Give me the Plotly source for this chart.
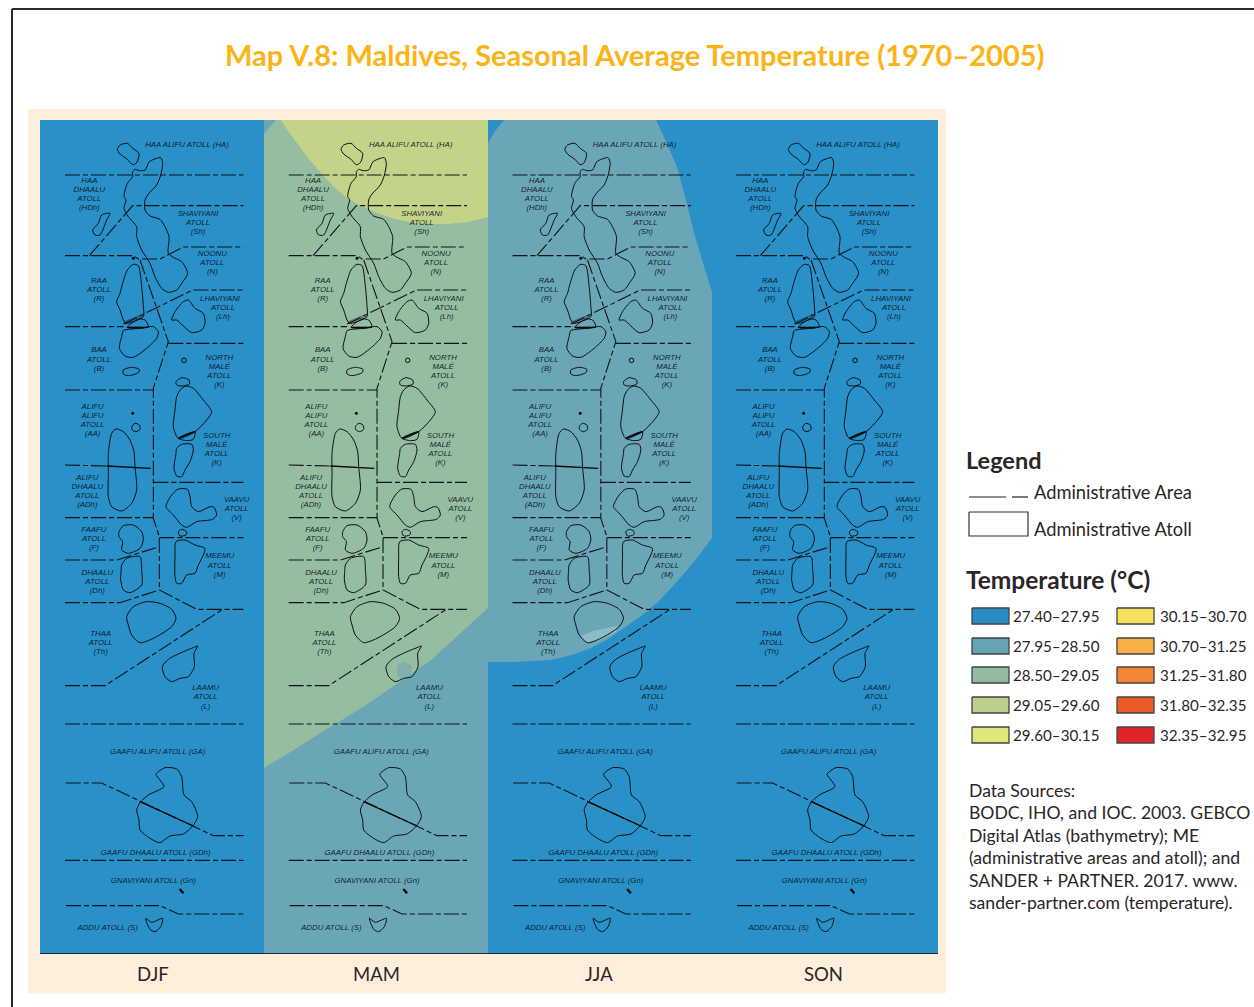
import plotly.graph_objects as go

TITLE = "Map V.8: Maldives, Seasonal Average Temperature (1970–2005)"
SEASONS = ["DJF", "MAM", "JJA", "SON"]
PANEL_X = [40, 264, 488, 712, 938]
PANEL_SHIFT = [40, 263.7, 487.5, 711]
PANEL_TOP, PANEL_BOTTOM = 120, 953
BIN_LABELS = ["27.40–27.95", "27.95–28.50", "28.50–29.05", "29.05–29.60", "29.60–30.15",
              "30.15–30.70", "30.70–31.25", "31.25–31.80", "31.80–32.35", "32.35–32.95"]
BIN_COLORS = ["#2A8AC4", "#66A3B5", "#92BBA0", "#BDCF8D", "#E0E778",
              "#F6E05E", "#F7B045", "#F48635", "#EA5B26", "#E0242A"]
SOURCES = ["Data Sources:", "BODC, IHO, and IOC. 2003. GEBCO", "Digital Atlas (bathymetry); ME",
           "(administrative areas and atoll); and", "SANDER + PARTNER. 2017. www.",
           "sander-partner.com (temperature)."]

PANEL_BLUE = "#2A90C8"
TEAL = "#6BA6B6"
GREEN = "#95BDA0"
YGREEN = "#C3D488"

# temperature zones, panel-local pixels
MAM_GREEN = [(0,14),(12,0),(224,0),(224,488),(212,499),(200,510),(184,525),(167,540),(147,554),(127,568),(105,583),(83,597),(58,612),(33,628),(0,648)]
MAM_YGREEN = [(17,0),(24,11),(33,23),(44,38),(57,53),(69,66),(83,78),(97,86),(113,93),(131,99),(150,103),(167,104),(183,104),(204,102),(224,97),(224,0)]
MAM_BLOTCH = [(133,546),(140,541),(148,546),(146,556),(138,560),(133,555)]
JJA_TEAL = [(0,23),(7,11),(16,0),(168,0),(176,17),(182,31),(189,47),(198,80),(206,113),(215,143),(224,172),(224,418),(212,434),(199,450),(185,466),(169,483),(153,496),(136,508),(120,519),(103,528),(84,535),(63,540),(45,541),(26,542),(0,542)]
JJA_BLOTCH = [(93,516),(105,511),(118,508),(129,506),(128,512),(112,520),(100,523)]

# atoll outlines, in enlarged map units (3 per pixel) with a sheet offset in pixels
HA = (0, [(232,88),(240,75),(262,70),(278,85),(297,100),(290,128),(278,134),(262,118),(240,102)])
NORTH_CHAIN = (0, [(278,155),(285,148),(298,152),(315,150),(328,125),(350,115),(362,113),(368,130),(362,165),(350,195),(325,222),(315,240),(315,270),(330,288),(360,298),(375,320),(387,350),(385,400),(400,412),(425,425),(443,460),(425,490),(410,510),(385,517),(365,505),(345,470),(330,430),(305,390),(290,350),(290,320),(265,290),(252,265),(258,240),(252,230),(262,190),(278,170)])
HDH_ISLE = (0, [(185,285),(210,280),(200,300),(180,345),(165,345),(158,330),(175,310)])
RAA = (0, [(248,490),(262,450),(280,433),(295,437),(305,500),(310,560),(310,590),(258,610),(250,600),(240,570),(230,545),(240,520)])
RAA_LOBE = (0, [(262,622),(295,597),(315,600),(325,620),(300,625)])
BAA = (0, [(250,632),(300,625),(340,620),(355,635),(350,655),(320,685),(280,712),(255,708),(238,685),(245,650)])
BAA_ISLE = (0, [(250,750),(275,742),(298,748),(295,758),(265,767),(250,762)])
LH = (0, [(395,600),(405,575),(430,545),(445,540),(465,565),(490,580),(495,610),(485,630),(455,638),(430,618),(410,600)])
NM_ISLE = (0, [(408,785),(425,773),(447,780),(448,792),(428,798),(410,795)])
NORTH_MALE = (270, [(410,20),(420,0),(438,-12),(460,-5),(490,30),(515,65),(500,90),(465,125),(415,145),(400,110),(405,60)])
NM_LOBE = (270, [(415,145),(440,152),(460,148),(465,125)])
SOUTH_MALE = (270, [(410,175),(425,163),(455,163),(460,180),(450,215),(435,240),(425,260),(410,258),(402,235),(408,190)])
AA_RING = (270, [(275,110),(285,100),(298,105),(300,118),(288,125),(277,120)])
ALIFU = (270, [(215,130),(228,117),(250,125),(270,150),(282,185),(285,230),(290,300),(275,340),(245,363),(215,350),(205,320),(205,250),(205,190)])
VAAVU = (270, [(378,350),(395,315),(415,297),(442,298),(450,320),(455,350),(475,365),(510,350),(522,352),(530,375),(518,388),(470,395),(440,412),(425,405),(400,375)])
V_ISLE = (270, [(415,425),(425,418),(440,425),(438,435),(420,438)])
MEEMU = (270, [(408,455),(435,450),(465,465),(495,475),(490,495),(475,525),(465,550),(440,555),(425,580),(410,580),(405,560),(405,500)])
FAAFU = (270, [(237,425),(250,407),(280,405),(305,425),(310,450),(300,475),(265,490),(245,480),(248,455),(237,440)])
DHAALU = (270, [(245,525),(260,505),(300,500),(305,540),(305,585),(270,608),(250,600),(242,570),(243,545)])
THAA = (270, [(260,680),(280,650),(320,635),(360,640),(395,658),(408,685),(395,710),(340,745),(300,758),(275,735),(265,705)])
LAAMU = (270, [(367,830),(385,808),(430,785),(460,773),(473,768),(462,790),(463,830),(445,860),(420,865),(395,875),(375,860)])
GAAFU = (560, [(348,283),(375,263),(410,267),(425,290),(432,345),(455,365),(473,410),(458,438),(430,462),(390,468),(360,488),(330,475),(300,450),(297,420),(290,390),(300,368),(325,345),(372,320),(360,300)])
ADDU = (560, [(317,715),(335,727),(368,715),(362,740),(345,755),(330,748)])
ATOLLS = [HA, NORTH_CHAIN, HDH_ISLE, RAA, RAA_LOBE, BAA, BAA_ISLE, LH, NM_ISLE, NORTH_MALE, NM_LOBE,
          SOUTH_MALE, AA_RING, ALIFU, VAAVU, V_ISLE, MEEMU, FAAFU, DHAALU, THAA, LAAMU, GAAFU, ADDU]

# heavy straight strokes
HEAVY = [
    (0, [(262,622),(325,622)]),
    (270, [(415,145),(465,125)]),
    (270, [(200,228),(332,235)]),
    (560, [(300,365),(460,438)]),
]
GN_ISLE = (560, [(419,627),(430,640)])
# fine hatch between Raa and its lobe
HATCH = [
    (0, [(252,606),(306,584)]), (0, [(255,610),(309,588)]),
]
DOTS = [(0, 280, 415), (270, 278, 70)]
RINGS = [(0, 432, 721)]

# administrative boundaries
BOUNDARIES = [
    (0, [(75,165),(610,165)]),
    (0, [(148,407),(278,257),(610,257)]),
    (0, [(75,407),(280,407),(295,417),(360,417),(430,381),(610,381)]),
    (0, [(300,420),(385,665),(340,805),(340,1195),(358,1250),(358,1410),(470,1468),(610,1468)]),
    (0, [(385,670),(610,670)]),
    (0, [(250,612),(458,510),(610,510)]),
    (0, [(75,620),(250,620)]),
    (0, [(75,810),(340,810)]),
    (270, [(75,225),(200,228)]),
    (270, [(340,277),(610,277)]),
    (270, [(75,383),(340,383)]),
    (270, [(358,443),(610,443)]),
    (270, [(75,510),(230,510),(358,470)]),
    (270, [(75,638),(240,638),(358,600)]),
    (270, [(75,887),(195,887),(548,658)]),
    (560, [(75,132),(610,132)]),
    (560, [(77,309),(185,309),(520,467),(610,467)]),
    (560, [(75,541),(610,541)]),
    (560, [(78,677),(360,677),(415,702),(610,702)]),
]

# (offset, centre x, [(line, y), ...])
LABELS = [
    (0, 441, [("HAA ALIFU ATOLL (HA)",75)]),
    (0, 148, [("HAA",183),("DHAALU",210),("ATOLL",237),("(HDh)",265)]),
    (0, 474, [("SHAVIYANI",283),("ATOLL",310),("(Sh)",337)]),
    (0, 517, [("NOONU",402),("ATOLL",429),("(N)",457)]),
    (0, 177, [("RAA",483),("ATOLL",510),("(R)",538)]),
    (0, 540, [("LHAVIYANI",537)]),
    (0, 549, [("ATOLL",565),("(Lh)",592)]),
    (0, 177, [("BAA",690),("ATOLL",720),("(B)",746)]),
    (0, 538, [("NORTH",714),("MALÉ",741),("ATOLL",768),("(K)",796)]),
    (270, 158, [("ALIFU",51),("ALIFU",78),("ATOLL",105),("(AA)",133)]),
    (270, 530, [("SOUTH",138),("MALÉ",165),("ATOLL",192),("(K)",220)]),
    (270, 142, [("ALIFU",264),("DHAALU",291),("ATOLL",318),("(ADh)",346)]),
    (270, 590, [("VAAVU",330),("ATOLL",357),("(V)",385)]),
    (270, 162, [("FAAFU",420),("ATOLL",447),("(F)",475)]),
    (270, 539, [("MEEMU",498),("ATOLL",528),("(M)",556)]),
    (270, 172, [("DHAALU",549),("ATOLL",576),("(Dh)",603)]),
    (270, 182, [("THAA",732),("ATOLL",759),("(Th)",787)]),
    (560, 497, [("LAAMU",25),("ATOLL",52),("(L)",80)]),
    (560, 353, [("GAAFU ALIFU ATOLL (GA)",216)]),
    (560, 347, [("GAAFU DHAALU ATOLL (GDh)",519)]),
    (560, 340, [("GNAVIYANI ATOLL (Gn)",603)]),
    (560, 203, [("ADDU ATOLL (S)",744)]),
]

SANS = "Lato, 'Open Sans', sans-serif"
INK = "#2A2627"
fig = go.Figure()


def poly(pts, dx, color):
    fig.add_trace(go.Scatter(x=[p[0] + dx for p in pts] + [pts[0][0] + dx],
                             y=[p[1] + PANEL_TOP for p in pts] + [pts[0][1] + PANEL_TOP],
                             mode="lines", fill="toself", fillcolor=color, line=dict(width=0),
                             hoverinfo="skip", showlegend=False))


def to_page(item, dx):
    off, pts = item
    return [p[0] / 3 + dx for p in pts], [p[1] / 3 + off + PANEL_TOP for p in pts]


# panel backgrounds
for i in range(4):
    x0, x1 = PANEL_X[i], PANEL_X[i + 1]
    fig.add_trace(go.Scatter(x=[x0, x1, x1, x0, x0], y=[PANEL_TOP, PANEL_TOP, PANEL_BOTTOM, PANEL_BOTTOM, PANEL_TOP],
                             mode="lines", fill="toself", fillcolor=TEAL if i == 1 else PANEL_BLUE,
                             line=dict(width=0), hoverinfo="skip", showlegend=False))
poly(MAM_GREEN, PANEL_X[1], GREEN)
poly(MAM_YGREEN, PANEL_X[1], YGREEN)
poly(MAM_BLOTCH, PANEL_X[1], "#7FB0AE")
poly(JJA_TEAL, PANEL_X[2], TEAL)
poly(JJA_BLOTCH, PANEL_X[2], "#8DBBC6")

# map linework, repeated per panel
for dx in PANEL_SHIFT:
    for a in ATOLLS:
        xs, ys = to_page(a, dx)
        fig.add_trace(go.Scatter(x=xs + xs[:1], y=ys + ys[:1], mode="lines",
                                 line=dict(color="#0B0F14", width=1.0, shape="spline", smoothing=0.7),
                                 hoverinfo="skip", showlegend=False))
    for b in BOUNDARIES:
        xs, ys = to_page(b, dx)
        fig.add_trace(go.Scatter(x=xs, y=ys, mode="lines",
                                 line=dict(color="#0F1418", width=1.1, dash="15px,3px,5px,3px"),
                                 hoverinfo="skip", showlegend=False))
    for h in HEAVY:
        xs, ys = to_page(h, dx)
        fig.add_trace(go.Scatter(x=xs, y=ys, mode="lines", line=dict(color="#060809", width=1.3),
                                 hoverinfo="skip", showlegend=False))
    xs, ys = to_page(GN_ISLE, dx)
    fig.add_trace(go.Scatter(x=xs, y=ys, mode="lines", line=dict(color="#060809", width=2.4),
                             hoverinfo="skip", showlegend=False))
    for h in HATCH:
        xs, ys = to_page(h, dx)
        fig.add_trace(go.Scatter(x=xs, y=ys, mode="lines", line=dict(color="#0B0F14", width=0.5),
                                 hoverinfo="skip", showlegend=False))
    fig.add_trace(go.Scatter(x=[d[1] / 3 + dx for d in DOTS], y=[d[2] / 3 + d[0] + PANEL_TOP for d in DOTS],
                             mode="markers", marker=dict(color="#060809", size=3), hoverinfo="skip", showlegend=False))
    fig.add_trace(go.Scatter(x=[d[1] / 3 + dx for d in RINGS], y=[d[2] / 3 + d[0] + PANEL_TOP for d in RINGS],
                             mode="markers", marker=dict(symbol="circle-open", color="#060809", size=4.5, line=dict(width=1)),
                             hoverinfo="skip", showlegend=False))
    tx, ty, tt = [], [], []
    for off, cx, lines in LABELS:
        for t, y in lines:
            tx.append(cx / 3 + dx)
            ty.append(y / 3 + off + PANEL_TOP)
            tt.append(t)
    fig.add_trace(go.Scatter(x=tx, y=ty, text=tt, mode="text", textposition="middle center", cliponaxis=False,
                             textfont=dict(family="Liberation Sans", size=7.8, style="italic", color="rgba(6,16,28,0.92)"),
                             hoverinfo="skip", showlegend=False))

# colour key swatches
KEY_ROWS = [616, 646, 675, 705, 735]
KEY_COLS = [(972, 1009, 1011), (1117, 1154, 1158)]
for i, (lab, col) in enumerate(zip(BIN_LABELS, BIN_COLORS)):
    x0, x1, xt = KEY_COLS[i // 5]
    y = KEY_ROWS[i % 5]
    fig.add_trace(go.Scatter(x=[x0, x1, x1, x0, x0], y=[y - 8, y - 8, y + 8, y + 8, y - 8], mode="lines", fill="toself",
                             fillcolor=col, line=dict(color="#444444", width=1.3), hoverinfo="skip", showlegend=False))
    fig.add_annotation(x=xt, y=y, text=lab, showarrow=False, xanchor="left", yanchor="middle",
                       font=dict(family=SANS, size=15.2, color=INK))

# boundary / atoll key
fig.add_trace(go.Scatter(x=[969, 1006], y=[497, 497], mode="lines", line=dict(color="#222", width=1.2), hoverinfo="skip", showlegend=False))
fig.add_trace(go.Scatter(x=[1012, 1028], y=[497, 497], mode="lines", line=dict(color="#222", width=1.2), hoverinfo="skip", showlegend=False))
fig.add_trace(go.Scatter(x=[969, 1028, 1028, 969, 969], y=[512, 512, 536, 536, 512], mode="lines", line=dict(color="#333", width=1.2), hoverinfo="skip", showlegend=False))


def note(x, y, text, size, bold=False, anchor="left", color=INK):
    t = f"<b>{text}</b>" if bold else text
    fig.add_annotation(x=x, y=y, text=t, showarrow=False, xanchor=anchor, yanchor="middle",
                       font=dict(family=SANS, size=size, color=color))


note(634, 54.5, TITLE, 29, bold=True, anchor="center", color="#FCB316")
for s, cx in zip(SEASONS, [153, 376, 599, 823]):
    note(cx, 974, s, 18.5, anchor="center")
note(964, 460, "Legend", 23.5, bold=True)
note(1032, 492, "Administrative Area", 18.3)
note(1032, 529, "Administrative Atoll", 18.3)
note(964, 579, "Temperature (°C)", 24.5, bold=True)
for y, s in zip([790, 812, 835, 857, 880, 902], SOURCES):
    note(967, y, s, 17.6)

fig.update_layout(
    width=1254, height=1007, margin=dict(l=0, r=0, t=0, b=0), paper_bgcolor="white", plot_bgcolor="white",
    xaxis=dict(range=[0, 1254], visible=False, fixedrange=True),
    yaxis=dict(range=[1007, 0], visible=False, fixedrange=True),
    shapes=[
        dict(type="rect", layer="below", x0=28, x1=946, y0=109, y1=993, fillcolor="#FDEFDB", line=dict(width=0)),
        dict(type="line", x0=12, x1=1254, y0=9, y1=9, line=dict(color="#2A2A2A", width=2)),
        dict(type="line", x0=12, x1=12, y0=9, y1=1007, line=dict(color="#2A2A2A", width=2)),
        dict(type="line", x0=40, x1=938, y0=953.5, y1=953.5, line=dict(color="#1A2A33", width=1)),
    ],
)
fig.write_html("out.html", config=dict(displayModeBar=False),
               post_script="document.body.style.margin='0';document.body.style.overflow='hidden';")
